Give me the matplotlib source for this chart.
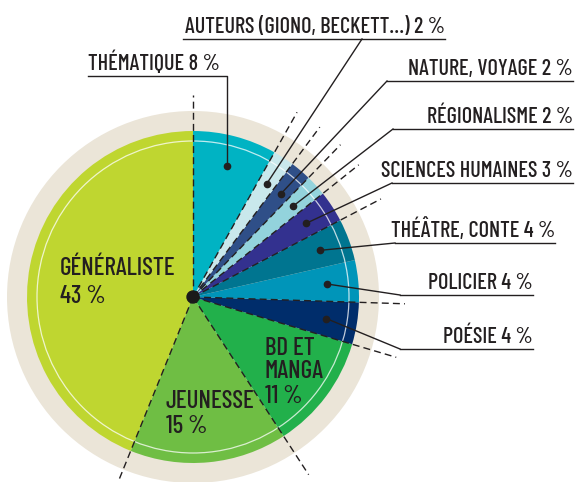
import numpy as np
import matplotlib
matplotlib.use("Agg")
import matplotlib.pyplot as plt
from matplotlib.patches import Circle

# ---------------- data ----------------
categories = ["GÉNÉRALISTE", "JEUNESSE", "BD ET MANGA", "POÉSIE", "POLICIER",
              "THÉÂTRE, CONTE", "SCIENCES HUMAINES", "RÉGIONALISME",
              "NATURE, VOYAGE", "AUTEURS (GIONO, BECKETT…)", "THÉMATIQUE"]
values = [43, 15, 11, 4, 4, 4, 3, 2, 2, 2, 8]
colors = ["#bfd630", "#6fbe44", "#22b04b", "#002d6b", "#0095b9",
          "#007590", "#33318f", "#93d3dc", "#2f4f88", "#c9e8ec", "#00b3c3"]

# ---------------- font ----------------
plt.rcParams["font.family"] = ["Barlow Condensed", "Fira Sans Condensed", "DejaVu Sans"]
plt.rcParams["font.stretch"] = "condensed"
plt.rcParams["font.weight"] = 500
TXT = "#231f20"

W, H = 578, 482
fig = plt.figure(figsize=(W / 100, H / 100), dpi=100)
ax = fig.add_axes([0, 0, 1, 1])

cx, cy = 193, H - 297
R = 166

ax.add_patch(Circle((cx, cy), 186, color="#ebe5d8", zorder=0, lw=0))
wedges, _ = ax.pie(values, colors=colors, startangle=90, counterclock=True,
                   radius=R, center=(cx, cy), wedgeprops=dict(linewidth=0))
for w in wedges:
    w.set_zorder(1)
ax.add_patch(Circle((cx, cy), 156, fill=False, ec="white", lw=0.9, alpha=0.75, zorder=2))

total = sum(values)
bounds = 90 + 360 * np.cumsum([0] + values) / total  # boundaries in degrees
mids = (bounds[:-1] + bounds[1:]) / 2

# dashed radial lines on boundaries
dash_idx = [0, 1, 2, 3, 4, 6, 7, 8, 9, 10]
for i in dash_idx:
    a = np.deg2rad(bounds[i])
    L = 202 if i == 0 else 212
    ax.plot([cx, cx + L * np.cos(a)], [cy, cy + L * np.sin(a)], color=TXT,
            lw=1.0, ls=(0, (5, 3)), zorder=3, solid_capstyle="butt")

ax.add_patch(Circle((cx, cy), 6, color="#1a1a1a", zorder=6))

# ---------------- callouts ----------------
def dot(i, r=135):
    a = np.deg2rad(mids[i])
    return cx + r * np.cos(a), cy + r * np.sin(a)

def Y(y):
    return H - y

FS = 16
# (index, elbow x, underline y, underline x0, x1, text align)
callouts = [
    (9, 362, 39, 183, 445, "right"),
    (8, 387, 81, 387, 573, "right"),
    (7, 393, 129, 393, 573, "right"),
    (6, 392, 183, 392, 573, "right"),
    (5, 395, 243, 395, 555, "right"),
    (4, 400, 295, 400, 533, "right"),
    (3, 400, 349, 400, 533, "right"),
]
for i, ex, uy, x0, x1, al in callouts:
    dx, dy = dot(i)
    ax.plot([dx, ex], [dy, Y(uy)], color=TXT, lw=1.0, zorder=5)
    ax.plot([x0, x1], [Y(uy), Y(uy)], color=TXT, lw=1.0, zorder=5)
    ax.plot(dx, dy, "o", color=TXT, ms=4.5, zorder=7)
    label = f"{categories[i]} {values[i]} %"
    tx = x0 if al == "left" else x1
    ax.text(tx, Y(uy - 6), label, ha=al, va="baseline", fontsize=FS, color=TXT)

# Thématique
dx, dy = dot(10)
ax.plot([dx, dx, 88], [dy, Y(76), Y(76)], color=TXT, lw=1.0, zorder=5)
ax.plot(dx, dy, "o", color=TXT, ms=4.5, zorder=7)
ax.text(88, Y(70), f"{categories[10]} {values[10]} %", ha="left", va="baseline",
        fontsize=FS, color=TXT)

# inside labels
FS2 = 18
ax.text(60, Y(275), categories[0], fontsize=FS2, color=TXT, va="baseline", zorder=8)
ax.text(60, Y(303), f"{values[0]} %", fontsize=FS2, color=TXT, va="baseline", zorder=8)
ax.text(166, Y(408), categories[1], fontsize=FS2, color=TXT, va="baseline", zorder=8)
ax.text(166, Y(433), f"{values[1]} %", fontsize=FS2, color=TXT, va="baseline", zorder=8)
ax.text(265, Y(355), "BD ET", fontsize=FS2, color=TXT, va="baseline", zorder=8)
ax.text(265, Y(378), "MANGA", fontsize=FS2, color=TXT, va="baseline", zorder=8)
ax.text(265, Y(403), f"{values[2]} %", fontsize=FS2, color=TXT, va="baseline", zorder=8)

ax.set_xlim(0, W)
ax.set_ylim(0, H)
ax.set_aspect("equal")
ax.axis("off")
fig.savefig("out.png", dpi=100, facecolor="white")
